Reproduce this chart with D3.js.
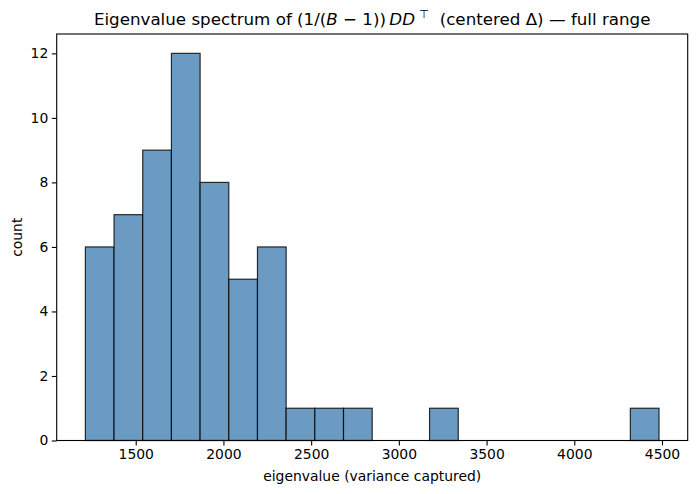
<!DOCTYPE html>
<html>
<head>
<meta charset="utf-8">
<script src="https://cdn.jsdelivr.net/npm/d3@7"></script>
<style>
  html, body { margin: 0; padding: 0; background: #fff; }
  svg { display: block; font-family: "DejaVu Sans", sans-serif; }
</style>
</head>
<body>
<svg id="chart" width="698" height="494"></svg>
<script>
// ---- data ----
const binEdges = [1213, 1376.5, 1540, 1703.5, 1867, 2030.5, 2194, 2357.5, 2521, 2684.5,
                  2848, 3011.5, 3175, 3338.5, 3502, 3665.5, 3829, 3992.5, 4156, 4319.5, 4483];
const counts = [6, 7, 9, 12, 8, 5, 6, 1, 1, 1, 0, 0, 1, 0, 0, 0, 0, 0, 0, 1];
const xTicks = [1500, 2000, 2500, 3000, 3500, 4000, 4500];
const yTicks = [0, 2, 4, 6, 8, 10, 12];
const xLabel = "eigenvalue (variance captured)";
const yLabel = "count";

// ---- layout ----
const W = 698, H = 494;
const pL = 56.7, pR = 687.7, pT = 34, pB = 440.5;

const xMin = binEdges[0], xMax = binEdges[binEdges.length - 1];
const xPad = (xMax - xMin) * 0.05;
const x = d3.scaleLinear().domain([xMin - xPad, xMax + xPad]).range([pL, pR]);
const yMaxC = d3.max(counts);
const y = d3.scaleLinear().domain([0, yMaxC * 1.05]).range([pB, pT]);

const svg = d3.select("#chart");

const bins = counts.map((c, i) => ({ x0: binEdges[i], x1: binEdges[i + 1], c }));

svg.append("g").selectAll("rect")
  .data(bins.filter(d => d.c > 0))
  .join("rect")
  .attr("x", d => x(d.x0))
  .attr("width", d => x(d.x1) - x(d.x0))
  .attr("y", d => y(d.c))
  .attr("height", d => y(0) - y(d.c))
  .attr("fill", "#6b9bc3")
  .attr("stroke", "rgba(0,0,0,0.8)")
  .attr("stroke-width", 1.2);

// axes
const xAxis = d3.axisBottom(x).tickValues(xTicks).tickFormat(d3.format("d")).tickSize(4.9).tickPadding(3.5);
const gx = svg.append("g").attr("transform", `translate(0,${pB})`).call(xAxis);
const yAxis = d3.axisLeft(y).tickValues(yTicks).tickFormat(d3.format("d")).tickSize(4.9).tickPadding(3.5);
const gy = svg.append("g").attr("transform", `translate(${pL},0)`).call(yAxis);

[gx, gy].forEach(g => {
  g.select(".domain").remove();
  g.selectAll(".tick line").attr("stroke", "#000").attr("stroke-width", 1.1);
  g.selectAll(".tick text").attr("fill", "#000").style("font-size", "13.9px").style("font-family", "DejaVu Sans");
});

// frame
svg.append("rect")
  .attr("x", pL).attr("y", pT)
  .attr("width", pR - pL).attr("height", pB - pT)
  .attr("fill", "none").attr("stroke", "#000").attr("stroke-width", 1.1);

// labels
svg.append("text")
  .attr("x", (pL + pR) / 2).attr("y", 481)
  .attr("text-anchor", "middle")
  .style("font-size", "13.9px")
  .text(xLabel);

svg.append("text")
  .attr("transform", `translate(22,${(pT + pB) / 2}) rotate(-90)`)
  .attr("text-anchor", "middle")
  .style("font-size", "13.9px")
  .text(yLabel);

// title with math parts
const title = svg.append("text")
  .attr("x", (pL + pR) / 2).attr("y", 25)
  .attr("text-anchor", "middle")
  .style("font-size", "16.7px")
  .attr("xml:space", "preserve")
  .style("white-space", "pre");
title.append("tspan").text("Eigenvalue spectrum of (1/(");
title.append("tspan").style("font-style", "italic").text("B");
title.append("tspan").text(" \u2212 1))\u2009");
title.append("tspan").style("font-style", "italic").text("DD");
title.append("tspan").attr("dy", -7).attr("dx", 4).style("font-size", "11.5px").text("\u22A4");
title.append("tspan").attr("dy", 7).text("  (centered \u0394) \u2014 full range");
</script>
</body>
</html>
